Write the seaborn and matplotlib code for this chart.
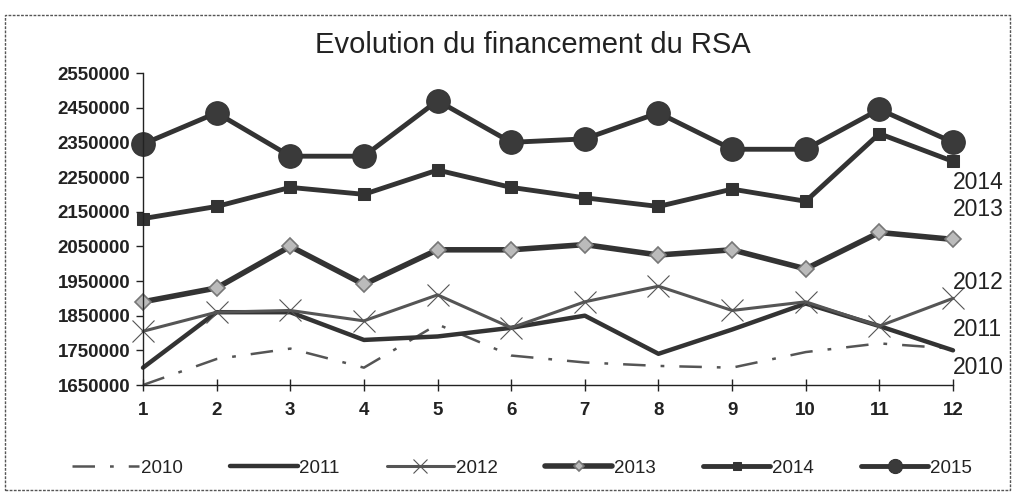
import numpy as np
import pandas as pd
import matplotlib
matplotlib.use("Agg")
import matplotlib.pyplot as plt
from matplotlib.patches import Rectangle
import seaborn as sns

mois = list(range(1, 13))
v2010 = [1650000, 1725000, 1755000, 1700000, 1825000, 1735000, 1715000, 1705000, 1700000, 1745000, 1770000, 1755000]
v2011 = [1700000, 1860000, 1860000, 1780000, 1790000, 1815000, 1850000, 1740000, 1810000, 1885000, 1820000, 1750000]
v2012 = [1805000, 1860000, 1865000, 1835000, 1910000, 1815000, 1890000, 1935000, 1865000, 1890000, 1820000, 1900000]
v2013 = [1890000, 1930000, 2050000, 1940000, 2040000, 2040000, 2055000, 2025000, 2040000, 1985000, 2090000, 2070000]
v2014 = [2130000, 2165000, 2220000, 2200000, 2270000, 2220000, 2190000, 2165000, 2215000, 2180000, 2375000, 2295000]
v2015 = [2345000, 2435000, 2310000, 2310000, 2470000, 2350000, 2360000, 2435000, 2330000, 2330000, 2445000, 2350000]

annees = ["2010", "2011", "2012", "2013", "2014", "2015"]
series = [v2010, v2011, v2012, v2013, v2014, v2015]

# labels written at the right end of the lines
end_labels = {"2014": 2235000, "2013": 2155000, "2012": 1945000, "2011": 1810000, "2010": 1700000}

sns.set_theme(style="white")
plt.rcParams['font.family'] = ['Liberation Sans', 'DejaVu Sans']

dark = "#333333"
styles = {
    "2010": dict(color="#555555", linewidth=1.8, linestyle=(0, (9, 6, 1.5, 6)), marker=None),
    "2011": dict(color=dark, linewidth=3.2, linestyle="-", marker=None),
    "2012": dict(color="#555555", linewidth=2.2, linestyle="-", marker="x", markersize=16,
                 markeredgewidth=0.8, markeredgecolor="#555555"),
    "2013": dict(color=dark, linewidth=4.0, linestyle="-", marker="D", markersize=8,
                 markerfacecolor="#bbbbbb", markeredgecolor="#777777", markeredgewidth=1.2),
    "2014": dict(color=dark, linewidth=3.5, linestyle="-", marker="s", markersize=9,
                 markerfacecolor=dark, markeredgecolor=dark),
    "2015": dict(color=dark, linewidth=3.5, linestyle="-", marker="o", markersize=17,
                 markerfacecolor="#3a3a3a", markeredgecolor=dark),
}

fig = plt.figure(figsize=(10.14, 5.04), dpi=100)
ax = fig.add_axes([143 / 1014, 1 - 385 / 504, (953 - 143) / 1014, (385 - 73) / 504])

for an, vals in zip(annees, series):
    df = pd.DataFrame({"mois": mois, "montant": vals})
    sns.lineplot(data=df, x="mois", y="montant", ax=ax, label=an, **styles[an])

ax.set_xlim(1, 12)
ax.set_ylim(1650000, 2550000)
ax.set_xticks(mois)
ax.set_yticks(np.arange(1650000, 2550001, 100000))
ax.set_yticklabels([f"{int(v)}" for v in np.arange(1650000, 2550001, 100000)])
ax.set_xlabel("")
ax.set_ylabel("")
for s in ["top", "right"]:
    ax.spines[s].set_visible(False)
for s in ["left", "bottom"]:
    ax.spines[s].set_color("#222222")
    ax.spines[s].set_linewidth(1.0)
ax.tick_params(axis="y", direction="out", length=5, width=1, color="#222222",
               labelsize=13.5, labelcolor="#222222", pad=4, left=True)
ax.tick_params(axis="x", direction="inout", length=8, width=1, color="#222222",
               labelsize=13.5, labelcolor="#222222", pad=8, bottom=True)
for lbl in ax.get_xticklabels() + ax.get_yticklabels():
    lbl.set_fontweight("bold")
for line in ax.get_lines():
    line.set_clip_on(False)

for an, yv in end_labels.items():
    ax.text(12.0, yv, an, ha="left", va="center", fontsize=16.5, color="#222222")

fig.text(0.525, 1 - 45 / 504, "Evolution du financement du RSA", ha="center", va="center",
         fontsize=21, color="#222222")

leg = ax.legend(loc="center", bbox_to_anchor=(522 / 1014, 1 - 468 / 504), bbox_transform=fig.transFigure,
                ncol=6, frameon=False, fontsize=13.5, handlelength=3.6, columnspacing=2.5,
                handletextpad=0.1, labelcolor="#222222", markerscale=0.6)

fig.patches.append(Rectangle((5 / 1014, 1 - 490 / 504), 1005 / 1014, 475 / 504,
                             transform=fig.transFigure, fill=False, edgecolor="#555555",
                             linewidth=1.0, linestyle=(0, (2, 1))))

fig.savefig("out.png", dpi=100, facecolor="white")
